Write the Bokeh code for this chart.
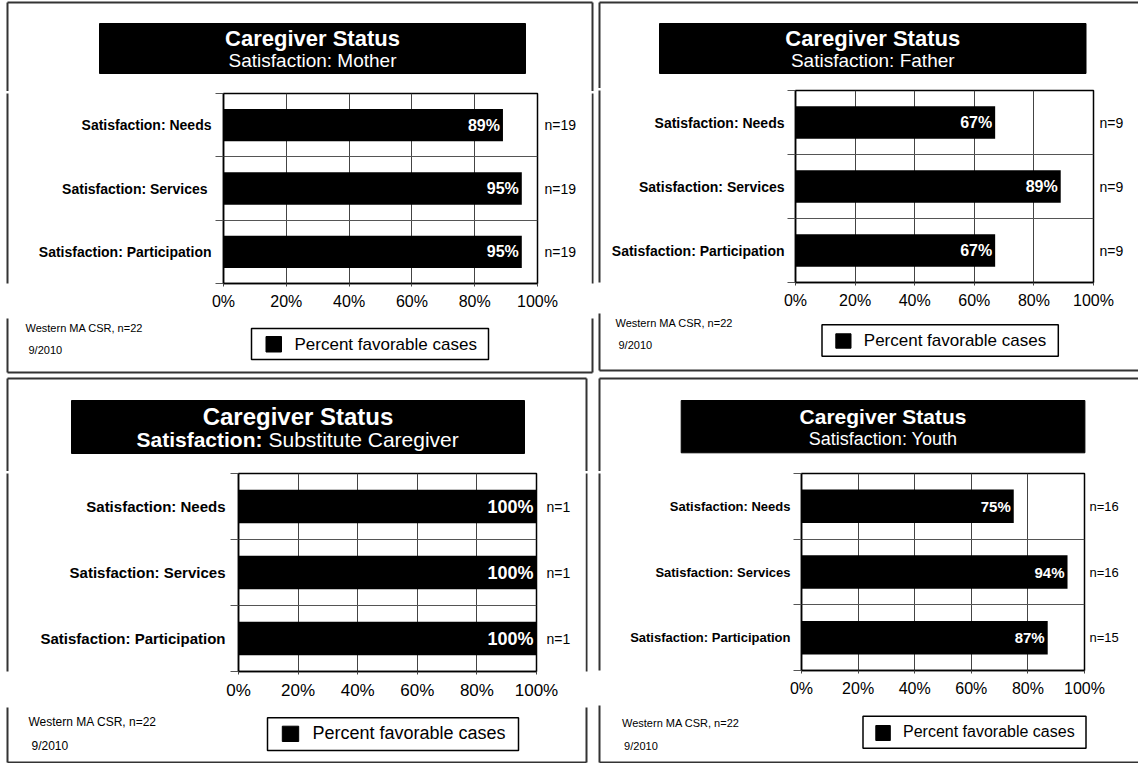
from bokeh.plotting import figure
from bokeh.models import (ColumnDataSource, Range1d, FixedTicker, PrintfTickFormatter,
                          LabelSet, LinearAxis)
from bokeh.layouts import row, column
from bokeh.core.properties import value
from bokeh.embed import file_html
from bokeh.resources import INLINE

FONT = "Liberation Sans"

# ---- data -------------------------------------------------------------
heading = "Caregiver Status"
legend_text = "Percent favorable cases"
source_note = "Western MA CSR, n=22"
date_note = "9/2010"
x_ticks = [0, 20, 40, 60, 80, 100]

categories = ["Satisfaction: Needs", "Satisfaction: Services", "Satisfaction: Participation"]
mother_categories = ["Satisfaction: Needs", "Satisfaction:  Services", "Satisfaction: Participation"]

mother_subtitle = [("Satisfaction: Mother", "normal")]
mother_pct = [89, 95, 95]
mother_n = [19, 19, 19]

father_subtitle = [("Satisfaction: Father", "normal")]
father_pct = [67, 89, 67]
father_n = [9, 9, 9]

substitute_subtitle = [("Satisfaction:", "bold"), ("Substitute Caregiver", "normal")]
substitute_pct = [100, 100, 100]
substitute_n = [1, 1, 1]

youth_subtitle = [("Satisfaction: Youth", "normal")]
youth_pct = [75, 94, 87]
youth_n = [16, 16, 15]


def deco(x0, x1, y0, y1):
    """A plain drawing surface whose data units are the panel's pixels."""
    p = figure(width=int(x1 - x0), height=int(y1 - y0),
               x_range=Range1d(x0, x1), y_range=Range1d(y1, y0),
               x_axis_location=None, y_axis_location=None,
               min_border=0, output_backend="svg", toolbar_location=None)
    p.grid.visible = False
    p.outline_line_color = None
    p.background_fill_color = "white"
    p.border_fill_color = "white"
    return p


def put_text(p, x, y, t, size, style="normal", align="left", color="black"):
    p.text(x=[x], y=[y], text=[t], text_font=value(FONT), text_font_size=f"{size}px",
           text_font_style=style, text_align=align, text_baseline="middle",
           text_color=color)


def draw_border(p, cfg):
    bx0, by0, bx1, by1 = cfg["border"]
    p.segment(x0=[bx0, bx0, bx0, bx1], y0=[by0, by1, by0, by0],
              x1=[bx1, bx1, bx0, bx1], y1=[by0, by1, by1, by1],
              line_color="#333333", line_width=2)


def chart(cfg, cats, pct, counts, x0, x1, y0, y1):
    fl, ft, fr, fb = cfg["frame"]
    p = figure(width=int(x1 - x0), height=int(y1 - y0),
               x_range=Range1d(0, 100), y_range=Range1d(len(cats), 0),
               output_backend="svg", toolbar_location=None,
               min_border_left=int(fl - x0), min_border_right=int(x1 - fr),
               min_border_top=int(ft - y0), min_border_bottom=int(y1 - fb))
    p.background_fill_color = "white"
    p.border_fill_color = "white"
    p.outline_line_color = "black"
    p.outline_line_width = 1.5

    p.xaxis.ticker = FixedTicker(ticks=x_ticks)
    p.xaxis.formatter = PrintfTickFormatter(format="%d%%")
    p.xaxis.major_tick_out = 3
    p.xaxis.major_tick_in = 0
    p.xaxis.major_tick_line_color = "#444444"
    p.xaxis.minor_tick_line_color = None
    p.xaxis.axis_line_color = "black"
    p.xaxis.axis_line_width = 1.5
    p.xaxis.major_label_text_font = FONT
    p.xaxis.major_label_text_font_size = f"{cfg['tick']}px"
    p.xaxis.major_label_text_color = "black"
    p.xaxis.major_label_standoff = 6
    p.xgrid.ticker = FixedTicker(ticks=x_ticks)
    p.xgrid.grid_line_color = "#444444"
    p.xgrid.grid_line_width = 1

    centers = [i + 0.5 for i in range(len(cats))]
    bounds = [float(i) for i in range(len(cats) + 1)]
    yt = FixedTicker(ticks=centers, minor_ticks=bounds)
    p.yaxis.ticker = yt
    p.yaxis.major_label_overrides = {c: name for c, name in zip(centers, cats)}
    p.yaxis.major_tick_line_color = None
    p.yaxis.major_tick_out = 0
    p.yaxis.major_tick_in = 0
    p.yaxis.minor_tick_out = 8
    p.yaxis.minor_tick_in = 0
    p.yaxis.minor_tick_line_color = "#555555"
    p.yaxis.axis_line_color = "black"
    p.yaxis.axis_line_width = 1.5
    p.yaxis.major_label_standoff = cfg["cat_gap"]
    p.yaxis.major_label_text_font = FONT
    p.yaxis.major_label_text_font_style = "bold"
    p.yaxis.major_label_text_font_size = f"{cfg['cat']}px"
    p.yaxis.major_label_text_color = "black"
    p.ygrid.ticker = yt
    p.ygrid.grid_line_color = None
    p.ygrid.minor_grid_line_color = "#555555"
    p.ygrid.minor_grid_line_width = 1.2

    # case counts as a label-only axis on the right
    n_axis = LinearAxis(ticker=FixedTicker(ticks=centers),
                        major_label_overrides={c: f"n={k}" for c, k in zip(centers, counts)},
                        axis_line_color=None, major_tick_line_color=None,
                        minor_tick_line_color=None, major_tick_out=0, major_tick_in=0,
                        major_label_standoff=cfg["n_gap"],
                        major_label_text_font=FONT,
                        major_label_text_font_size=f"{cfg['nsize']}px",
                        major_label_text_color="black")
    p.add_layout(n_axis, "right")

    src = ColumnDataSource(dict(y=centers, pct=pct, label=[f"{v}%" for v in pct]))
    p.hbar(y="y", left=0, right="pct", height=0.51, source=src,
           fill_color="black", line_color=None)
    p.add_layout(LabelSet(x="pct", y="y", text="label", source=src, x_offset=-3,
                          text_align="right", text_baseline="middle", text_color="white",
                          text_font=value(FONT), text_font_style="bold",
                          text_font_size=f"{cfg['val']}px"))
    return p


def make_panel(cfg, cats, pct, counts, subtitle):
    W, H = cfg["size"]
    fl, ft, fr, fb = cfg["frame"]
    ls, rs = cfg["strips"]
    mb = cfg["mid"]
    top = ft - 2

    # heading area
    head = deco(0, W, 0, top)
    draw_border(head, cfg)
    tx0, ty0, tx1, ty1 = cfg["title_box"]
    head.quad(left=[tx0], right=[tx1], top=[ty0], bottom=[ty1],
              fill_color="black", line_color="black")
    cx = (tx0 + tx1) / 2
    put_text(head, cx, cfg["line1"], heading, cfg["t1"], "bold", "center", "white")
    if len(subtitle) == 1:
        s, st = subtitle[0]
        put_text(head, cx, cfg["line2"], s, cfg["t2"], st, "center", "white")
    else:
        (s1, st1), (s2, st2) = subtitle
        put_text(head, cfg["split"][0], cfg["line2"], s1, cfg["t2"], st1, "right", "white")
        put_text(head, cfg["split"][1], cfg["line2"], s2, cfg["t2"], st2, "left", "white")

    # chart row with thin strips that carry the panel's side borders
    kids = []
    left = deco(0, ls, top, mb)
    draw_border(left, cfg)
    kids.append(left)
    kids.append(chart(cfg, cats, pct, counts, ls, W - rs, top, mb))
    if rs > 0:
        right = deco(W - rs, W, top, mb)
        draw_border(right, cfg)
        kids.append(right)

    # notes and legend
    foot = deco(0, W, mb, H)
    draw_border(foot, cfg)
    (f1x, f1y), (f2x, f2y) = cfg["foot"]
    put_text(foot, f1x, f1y, source_note, cfg["fsize"])
    put_text(foot, f2x, f2y, date_note, cfg["fsize"])
    lx0, ly0, lx1, ly1 = cfg["leg_box"]
    foot.quad(left=[lx0], right=[lx1], top=[ly0], bottom=[ly1],
              fill_color="white", line_color="black", line_width=1.5)
    sx0, sy0, sx1, sy1 = cfg["leg_sq"]
    foot.quad(left=[sx0], right=[sx1], top=[sy0], bottom=[sy1],
              fill_color="black", line_color="black")
    put_text(foot, cfg["leg_text"][0], cfg["leg_text"][1], legend_text, cfg["lsize"])

    return column(head, row(*kids), foot)


tl = dict(size=(596, 375), frame=(223, 93, 537, 283), border=(7, 2, 592, 372),
          strips=(9, 5), mid=318,
          title_box=(99, 23, 525, 73), line1=38, line2=60, t1=22, t2=19,
          cat=14, cat_gap=4, val=16, n_gap=7, nsize=14, tick=16,
          foot=((25, 327), (28, 349)), fsize=11,
          leg_box=(251, 328, 488, 359), leg_sq=(265.5, 336, 281, 351.5),
          leg_text=(294, 343.5), lsize=17)
tr = dict(size=(542, 375), frame=(199, 90, 497, 282), border=(3, 2, 560, 370),
          strips=(5, 0), mid=313,
          title_box=(63, 23, 489.5, 73), line1=37.5, line2=59.5, t1=22, t2=19,
          cat=14, cat_gap=3, val=16, n_gap=6, nsize=14, tick=16,
          foot=((19, 322.7), (22, 344.3)), fsize=11,
          leg_box=(225.5, 324.3, 461.8, 355.7), leg_sq=(239.3, 333.3, 254.5, 347.7),
          leg_text=(267.3, 340), lsize=17)
bl = dict(size=(596, 388), frame=(238, 98, 536, 296), border=(7, 3, 586, 387),
          strips=(9, 11), mid=332,
          title_box=(71, 25, 524, 78), line1=41, line2=63.5, t1=24, t2=21, split=(262, 268),
          cat=15, cat_gap=5, val=18, n_gap=10, nsize=14, tick=17,
          foot=((28, 346.7), (31, 370)), fsize=12,
          leg_box=(267, 342.3, 518, 375), leg_sq=(281.8, 350.7, 298.2, 366),
          leg_text=(312, 357.3), lsize=18)
br = dict(size=(542, 388), frame=(205, 98, 488, 295), border=(3, 3, 560, 387),
          strips=(5, 0), mid=330,
          title_box=(84.7, 25, 488.4, 77.3), line1=41, line2=63, t1=21, t2=18,
          cat=13, cat_gap=3, val=15, n_gap=5, nsize=13, tick=16,
          foot=((25.5, 347.3), (27.6, 370)), fsize=11,
          leg_box=(266.5, 340.7, 489.5, 372.7), leg_sq=(279.3, 350, 293.8, 365),
          leg_text=(306.5, 356), lsize=16)

p1 = make_panel(tl, mother_categories, mother_pct, mother_n, mother_subtitle)
p2 = make_panel(tr, categories, father_pct, father_n, father_subtitle)
p3 = make_panel(bl, categories, substitute_pct, substitute_n, substitute_subtitle)
p4 = make_panel(br, categories, youth_pct, youth_n, youth_subtitle)

page = column(row(p1, p2), row(p3, p4))
open("out.html", "w").write(file_html(page, INLINE, title="Caregiver Status"))
